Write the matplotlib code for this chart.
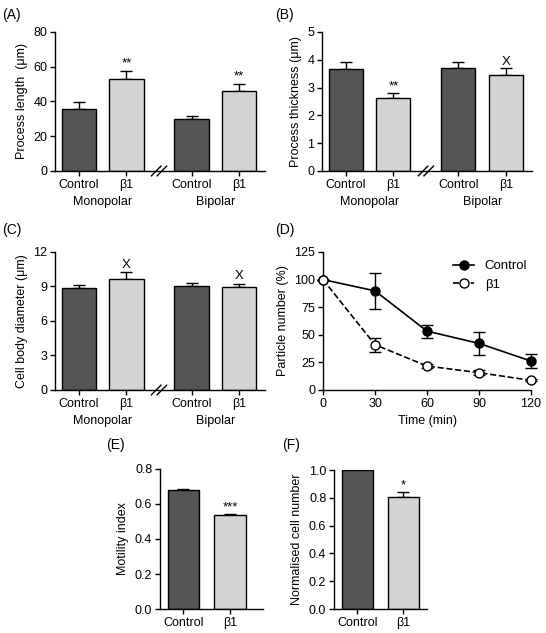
import matplotlib
matplotlib.use("Agg")
import matplotlib.pyplot as plt
import matplotlib.transforms as mtransforms
from matplotlib.lines import Line2D
import numpy as np

plt.rcParams['font.family'] = ['Liberation Sans', 'DejaVu Sans']
plt.rcParams['font.size'] = 9

# ---- data ----
bar_labels = ["Control", "\u03b21"]
groups = ["Monopolar", "Bipolar"]

length_mean = [35.6, 53.0, 29.9, 46.0]
length_err = [4.1, 4.8, 1.7, 4.3]
length_sig = ["", "**", "", "**"]

thick_mean = [3.66, 2.61, 3.69, 3.47]
thick_err = [0.25, 0.20, 0.22, 0.22]
thick_sig = ["", "**", "", "X"]

diam_mean = [8.87, 9.68, 9.02, 8.93]
diam_err = [0.29, 0.58, 0.32, 0.32]
diam_sig = ["", "X", "", "X"]

time_min = [0, 30, 60, 90, 120]
ctrl_particles = [100, 89.8, 53.3, 42.2, 26.2]
ctrl_particles_err = [0, 16, 6, 10.5, 6]
b1_particles = [100, 41, 21.7, 15.7, 8.7]
b1_particles_err = [0, 6.3, 2, 2.5, 1]

motility = [0.678, 0.535]
motility_err = [0.010, 0.009]
motility_sig = ["", "***"]

cellnum = [1.0, 0.806]
cellnum_err = [0.0, 0.038]
cellnum_sig = ["", "*"]

dark = "#555555"
light = "#d4d4d4"

fig = plt.figure(figsize=(5.46, 6.33), dpi=100)


def style(ax):
    ax.spines['top'].set_visible(False)
    ax.spines['right'].set_visible(False)
    ax.tick_params(direction='out', length=3.5, width=1, pad=2)
    for s in ['left', 'bottom']:
        ax.spines[s].set_linewidth(1)


def grouped(ax, means, errs, sig, ylim, yticks, ylabel, sig_off):
    pos = [0, 1, 2.37, 3.37]
    cols = [dark, light, dark, light]
    ax.bar(pos, means, width=0.72, color=cols, edgecolor='black', linewidth=1, zorder=2)
    ax.errorbar(pos, means, yerr=[np.zeros(4), errs], fmt='none', ecolor='black',
                elinewidth=1, capsize=4.5, capthick=1, zorder=1)
    for p, m, e, s in zip(pos, means, errs, sig):
        if s:
            ax.text(p, m + e + sig_off, s, ha='center', va='bottom', fontsize=9.5)
    ax.set_xlim(-0.505, 3.92)
    ax.set_ylim(*ylim)
    ax.set_yticks(yticks)
    ax.set_xticks(pos)
    ax.set_xticklabels(bar_labels * 2)
    ax.set_ylabel(ylabel)
    style(ax)
    trans = mtransforms.blended_transform_factory(ax.transData, ax.transAxes)
    ax.text(0.5, -0.225, groups[0], transform=trans, ha='center', va='center')
    ax.text(2.87, -0.225, groups[1], transform=trans, ha='center', va='center')
    # axis break marks
    bx = 0.5 * (1 + 2.37)
    for dx in (-0.06, 0.06):
        ax.plot([bx + dx - 0.1, bx + dx + 0.1], [-0.035, 0.035], color='black',
                lw=1, transform=trans, clip_on=False, zorder=5)


axA = fig.add_axes([0.1007, 0.7299, 0.385, 0.2196])
grouped(axA, length_mean, length_err, length_sig, (0, 80), [0, 20, 40, 60, 80],
        "Process length  (\u03bcm)", 0.5)
axB = fig.add_axes([0.5897, 0.7299, 0.3846, 0.2196])
grouped(axB, thick_mean, thick_err, thick_sig, (0, 5), [0, 1, 2, 3, 4, 5],
        "Process thickness (\u03bcm)", 0.03)
axC = fig.add_axes([0.1007, 0.3839, 0.385, 0.218])
grouped(axC, diam_mean, diam_err, diam_sig, (0, 12), [0, 3, 6, 9, 12],
        "Cell body diameter (\u03bcm)", 0.1)

# (D) time course
axD = fig.add_axes([0.5916, 0.3839, 0.381, 0.218])
axD.errorbar(time_min, ctrl_particles, yerr=ctrl_particles_err, color='black', lw=1.2,
             marker='o', markersize=6.5, markerfacecolor='black', capsize=4,
             elinewidth=1, clip_on=False, zorder=3)
axD.errorbar(time_min, b1_particles, yerr=b1_particles_err, color='black', lw=1.2,
             ls='--', marker='o', markersize=6.5, markerfacecolor='white', capsize=4,
             elinewidth=1, clip_on=False, zorder=3)
axD.set_xlim(0, 120)
axD.set_ylim(0, 125)
axD.set_xticks(time_min)
axD.set_yticks([0, 25, 50, 75, 100, 125])
axD.set_xlabel("Time (min)")
axD.set_ylabel("Particle number (%)")
style(axD)
handles = [Line2D([], [], color='black', lw=1.2, marker='o', markersize=6.5,
                  markerfacecolor='black'),
           Line2D([], [], color='black', lw=1.2, ls='--', marker='o', markersize=6.5,
                  markerfacecolor='white')]
axD.legend(handles, ["Control", "\u03b21"], loc='upper right', frameon=False,
           handlelength=1.6, fontsize=9.5, bbox_to_anchor=(1.02, 1.0), borderaxespad=0.2)

# (E) motility
axE = fig.add_axes([0.293, 0.0379, 0.1886, 0.2212])
axE.bar([0, 1], motility, width=0.67, color=[dark, light], edgecolor='black', lw=1, zorder=2)
axE.errorbar([0, 1], motility, yerr=[np.zeros(2), motility_err], fmt='none',
             ecolor='black', elinewidth=1, capsize=4.5, zorder=1)
for p, m, e, s in zip([0, 1], motility, motility_err, motility_sig):
    if s:
        axE.text(p, m + e + 0.004, s, ha='center', va='bottom', fontsize=9.5)
axE.set_xlim(-0.505, 1.71)
axE.set_ylim(0, 0.8)
axE.set_yticks([0, 0.2, 0.4, 0.6, 0.8])
axE.set_yticklabels(["0.0", "0.2", "0.4", "0.6", "0.8"])
axE.set_xticks([0, 1])
axE.set_xticklabels(bar_labels)
axE.set_ylabel("Motility index")
style(axE)

# (F) cell number
axF = fig.add_axes([0.6117, 0.0379, 0.170, 0.2196])
axF.bar([0, 1], cellnum, width=0.67, color=[dark, light], edgecolor='black', lw=1, zorder=2)
axF.errorbar([1], [cellnum[1]], yerr=[[0], [cellnum_err[1]]], fmt='none',
             ecolor='black', elinewidth=1, capsize=4.5, zorder=1)
for p, m, e, s in zip([0, 1], cellnum, cellnum_err, cellnum_sig):
    if s:
        axF.text(p, m + e + 0.005, s, ha='center', va='bottom', fontsize=9.5)
axF.set_xlim(-0.51, 1.51)
axF.set_ylim(0, 1.0)
axF.set_yticks([0, 0.2, 0.4, 0.6, 0.8, 1.0])
axF.set_yticklabels(["0.0", "0.2", "0.4", "0.6", "0.8", "1.0"])
axF.set_xticks([0, 1])
axF.set_xticklabels(bar_labels)
axF.set_ylabel("Normalised cell number")
style(axF)

# panel letters
for lab, x, y in [("(A)", 0.004, 0.988), ("(B)", 0.503, 0.988), ("(C)", 0.004, 0.648),
                  ("(D)", 0.503, 0.648), ("(E)", 0.194, 0.308), ("(F)", 0.517, 0.308)]:
    fig.text(x, y, lab, ha='left', va='top', fontsize=10)

fig.savefig("out.png", dpi=100)
